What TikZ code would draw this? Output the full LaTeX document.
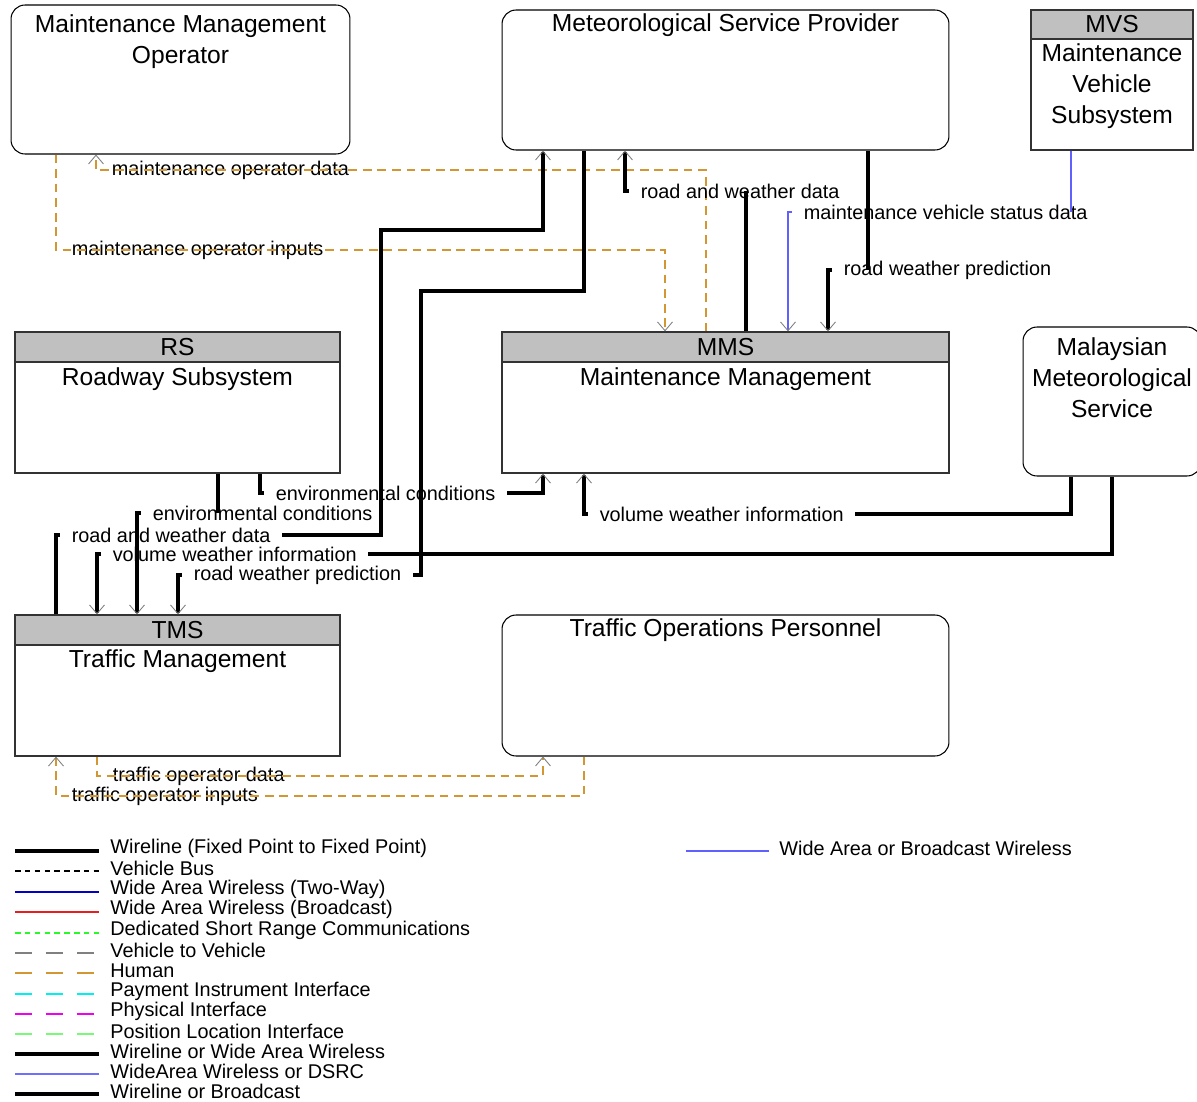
\documentclass[tikz,border=0pt]{standalone}
\usepackage{fontspec}
\setmainfont{Liberation Sans}
\usepackage{xcolor}
\usepackage{tikz}
\usetikzlibrary{arrows.meta,positioning}
\definecolor{headgray}{RGB}{192,192,192}
\definecolor{humanc}{RGB}{210,150,50}
\definecolor{wabw}{RGB}{96,96,255}
\definecolor{twoway}{RGB}{0,0,200}
\definecolor{bcast}{RGB}{230,30,30}
\definecolor{dsrc}{RGB}{40,250,40}
\definecolor{vtov}{RGB}{128,128,128}
\definecolor{payc}{RGB}{0,240,240}
\definecolor{physc}{RGB}{240,0,240}
\definecolor{posc}{RGB}{120,250,120}
\definecolor{wadsrc}{RGB}{110,110,255}
\newcommand{\boxfont}{\fontsize{14}{17.6}\selectfont}
\newcommand{\linkfont}{\fontsize{11.3}{13.6}\selectfont}
\tikzstyle{term} = [draw, rounded corners=0.28cm, inner sep=0pt, line width=0.6pt]
\tikzstyle{subsys} = [draw=black!80, inner sep=0pt, line width=0.7pt]
\tikzstyle{subhead} = [subsys, fill=headgray, anchor=north, font=\boxfont]
\tikzstyle{boxtitle} = [font=\boxfont, align=center, inner sep=0pt]
\tikzstyle{flowlabel} = [font=\linkfont, anchor=west, inner xsep=6.5pt, inner ysep=1pt]
\tikzstyle{legendtext} = [font=\linkfont, anchor=west, inner sep=0pt]
\tikzstyle{wire} = [line width=1.9pt]
\tikzstyle{human} = [draw=humanc, line width=0.7pt, dash pattern=on 5pt off 3.3pt]
\tikzstyle{wireless} = [draw=wabw, line width=0.7pt]
\tikzstyle{longdash} = [line width=0.9pt, dash pattern=on 9.6pt off 8pt]
\tikzstyle{shortdash} = [line width=0.6pt, dash pattern=on 3.2pt off 2.4pt]
\tikzstyle{flow} = [-{Straight Barb[length=5pt,width=8.5pt,line width=0.5pt,color=gray]}]

\begin{document}
\begin{tikzpicture}[x=0.02cm, y=-0.02cm]
    \useasboundingbox (0,0) rectangle (1197,1102);
    \node[term, minimum width=6.78cm, minimum height=2.98cm] (mmo) at (180.5,79.5) {};
    \node[boxtitle] (mmotitle) at (180.5,41.5) {Maintenance Management\\Operator};
    \node[term, minimum width=8.94cm, minimum height=2.8cm] (msp) at (725.5,80) {};
    \node[boxtitle] (msptitle) at (725.5,25.5) {Meteorological Service Provider};
    \node[subsys, minimum width=3.24cm, minimum height=2.8cm] (mvs) at (1112,80) {};
    \node[subhead, minimum width=3.24cm, minimum height=0.58cm] (mvshead) at (mvs.north) {MVS};
    \node[boxtitle] (mvstitle) at (1112,86.5) {Maintenance\\Vehicle\\Subsystem};
    \node[subsys, minimum width=6.5cm, minimum height=2.82cm] (rs) at (177.5,402.5) {};
    \node[subhead, minimum width=6.5cm, minimum height=0.6cm] (rshead) at (rs.north) {RS};
    \node[boxtitle] (rstitle) at (177.5,379) {Roadway Subsystem};
    \node[subsys, minimum width=8.94cm, minimum height=2.82cm] (mms) at (725.5,402.5) {};
    \node[subhead, minimum width=8.94cm, minimum height=0.6cm] (mmshead) at (mms.north) {MMS};
    \node[boxtitle] (mmstitle) at (725.5,379) {Maintenance Management};
    \node[term, minimum width=3.56cm, minimum height=2.98cm] (mmet) at (1112,401.5) {};
    \node[boxtitle] (mmettitle) at (1112,378) {Malaysian\\Meteorological\\Service};
    \node[subsys, minimum width=6.5cm, minimum height=2.82cm] (tms) at (177.5,685.5) {};
    \node[subhead, minimum width=6.5cm, minimum height=0.6cm] (tmshead) at (tms.north) {TMS};
    \node[boxtitle] (tmstitle) at (177.5,661) {Traffic Management};
    \node[term, minimum width=8.94cm, minimum height=2.82cm] (top) at (725.5,685.5) {};
    \node[boxtitle] (toptitle) at (725.5,630.5) {Traffic Operations Personnel};

    \node[flowlabel] (mod) at (100,170) {maintenance operator data};
    \draw[human, flow] (706,0 |- mms.north) |- (mod.west) -| (96,0 |- mmo.south);
    \node[flowlabel] (moi) at (60,250) {maintenance operator inputs};
    \draw[human, flow] (56,0 |- mmo.south) |- (moi.west) -| (665,0 |- mms.north);
    \node[flowlabel] (rwd1) at (629,191) {road and weather data};
    \draw[wire] (746,0 |- mms.north) -- (746,0 |- rwd1.west);
    \draw[wire, flow] (rwd1.west) -| (625,0 |- msp.south);
    \node[flowlabel] (mvsd) at (792,212) {maintenance vehicle status data};
    \draw[wireless] (1071,0 |- mvs.south) -- (1071,0 |- mvsd.west);
    \draw[wireless, flow] (mvsd.west) -| (788,0 |- mms.north);
    \node[flowlabel] (rwp1) at (832,270) {road weather prediction};
    \draw[wire] (868,0 |- msp.south) -- (868,0 |- rwp1.west);
    \draw[wire, flow] (rwp1.west) -| (828,0 |- mms.north);
    \node[flowlabel] (ec1) at (264,493) {environmental conditions};
    \draw[wire] (260,0 |- rs.south) |- (ec1.west);
    \draw[wire, flow] (ec1.east) -| (543,0 |- mms.south);
    \node[flowlabel] (ec2) at (141,513) {environmental conditions};
    \draw[wire] (218,0 |- rs.south) -- (218,0 |- ec2.west);
    \draw[wire, flow] (ec2.west) -| (137,0 |- tms.north);
    \node[flowlabel] (rwd2) at (60,535) {road and weather data};
    \draw[wire] (56,0 |- tms.north) |- (rwd2.west);
    \draw[wire, flow] (rwd2.east) -| (381,230) -| (543,0 |- msp.south);
    \node[flowlabel] (vwi1) at (588,514) {volume weather information};
    \draw[wire] (1071,0 |- mmet.south) |- (vwi1.east);
    \draw[wire, flow] (vwi1.west) -| (584,0 |- mms.south);
    \node[flowlabel] (vwi2) at (101,554) {volume weather information};
    \draw[wire] (1112,0 |- mmet.south) |- (vwi2.east);
    \draw[wire, flow] (vwi2.west) -| (97,0 |- tms.north);
    \node[flowlabel] (rwp2) at (182,575) {road weather prediction};
    \draw[wire] (584,0 |- msp.south) |- (421,291) |- (rwp2.east);
    \draw[wire, flow] (rwp2.west) -| (178,0 |- tms.north);
    \node[flowlabel] (tod) at (101,776) {traffic operator data};
    \draw[human, flow] (97,0 |- tms.south) |- (tod.west) -| (543,0 |- top.south);
    \node[flowlabel] (toi) at (60,796) {traffic operator inputs};
    \draw[human, flow] (584,0 |- top.south) |- (toi.west) -| (56,0 |- tms.south);

    \draw[wire] (15,851) -- (99,851);
    \node[legendtext] (lg1) at (110,848.5) {Wireline (Fixed Point to Fixed Point)};
    \draw[shortdash] (15,871) -- (99,871);
    \node[legendtext] (lg2) at (110,868.5) {Vehicle Bus};
    \draw[twoway, line width=0.6pt] (15,892) -- (99,892);
    \node[legendtext] (lg3) at (110,889.5) {Wide Area Wireless (Two-Way)};
    \draw[bcast, line width=0.6pt] (15,912) -- (99,912);
    \node[legendtext] (lg4) at (110,909.5) {Wide Area Wireless (Broadcast)};
    \draw[dsrc, shortdash] (15,933) -- (99,933);
    \node[legendtext] (lg5) at (110,930.5) {Dedicated Short Range Communications};
    \draw[vtov, longdash] (15,953) -- (99,953);
    \node[legendtext] (lg6) at (110,950.5) {Vehicle to Vehicle};
    \draw[humanc, longdash] (15,973) -- (99,973);
    \node[legendtext] (lg7) at (110,970.5) {Human};
    \draw[payc, longdash] (15,994) -- (99,994);
    \node[legendtext] (lg8) at (110,991.5) {Payment Instrument Interface};
    \draw[physc, longdash] (15,1014) -- (99,1014);
    \node[legendtext] (lg9) at (110,1011.5) {Physical Interface};
    \draw[posc, longdash] (15,1034) -- (99,1034);
    \node[legendtext] (lg10) at (110,1031.5) {Position Location Interface};
    \draw[wire] (15,1054) -- (99,1054);
    \node[legendtext] (lg11) at (110,1051.5) {Wireline or Wide Area Wireless};
    \draw[wadsrc, line width=0.8pt] (15,1074) -- (99,1074);
    \node[legendtext] (lg12) at (110,1071.5) {WideArea Wireless or DSRC};
    \draw[wire] (15,1094) -- (99,1094);
    \node[legendtext] (lg13) at (110,1091.5) {Wireline or Broadcast};
    \draw[wabw, line width=0.6pt] (686,851) -- (769,851);
    \node[legendtext] (lg14) at (779,848.5) {Wide Area or Broadcast Wireless};
\end{tikzpicture}
\end{document}
